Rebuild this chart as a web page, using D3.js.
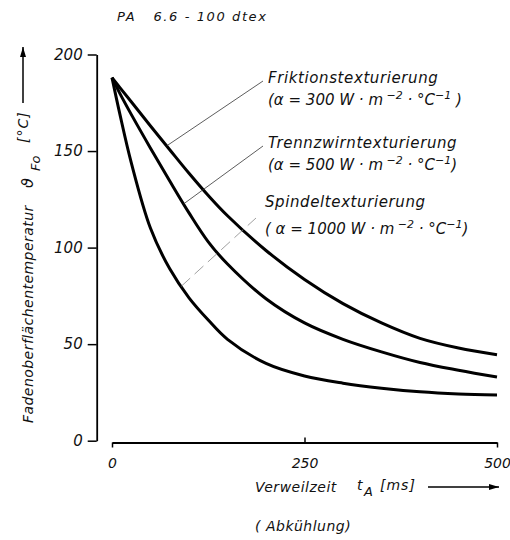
<!DOCTYPE html>
<html>
<head>
<meta charset="utf-8">
<script src="https://cdn.jsdelivr.net/npm/d3@7"></script>
<style>
    body { margin: 0; background: white; }
    text { font-family: "DejaVu Sans", sans-serif; font-style: italic; fill: #111; }
</style>
</head>
<body>
<div id="chart"></div>
<script>
// Verweilzeit t_A [ms]
const times = [0, 10, 25, 50, 75, 100, 125, 150, 200, 250, 300, 350, 400, 450, 500];
// Fadenoberflächentemperatur [°C]
const friktion = [188, 183, 175.5, 163, 150.7, 138.5, 127, 116.5, 98.5, 83.5, 71, 61, 53, 48, 44.5];
const trennzwirn = [188, 180, 169, 151.5, 134.5, 118, 103, 91.5, 73.5, 61, 52.5, 46, 40.5, 36.5, 33];
const spindel = [188, 169.5, 144, 110, 89, 74, 62.5, 52.5, 40, 33.5, 29.8, 27.2, 25.3, 24.2, 23.7];

const seriesNames = ["Friktionstexturierung", "Trennzwirntexturierung", "Spindeltexturierung"];
const alphaValues = ["300", "500", "1000"];
const leaderAt = [71, 93, 90];

const xTicks = [0, 250, 500];
const yTicks = [0, 50, 100, 150, 200];

const width = 510;
const height = 540;

const x = d3.scaleLinear().domain([0, 500]).range([112, 497]);
const y = d3.scaleLinear().domain([0, 200]).range([440.7, 54.5]);

const svg = d3.select("#chart")
    .append("svg")
    .attr("width", width)
    .attr("height", height);

// title
svg.append("text")
    .attr("x", 117)
    .attr("y", 21)
    .style("font-size", "13px")
    .style("letter-spacing", "1.6px")
    .style("white-space", "pre")
    .text("PA   6.6 - 100 dtex");

// axes
const yAxis = d3.axisLeft(y)
    .tickValues(yTicks)
    .tickSizeInner(9)
    .tickSizeOuter(0)
    .tickPadding(5);
const gy = svg.append("g")
    .attr("transform", "translate(96.7,0)")
    .call(yAxis);
gy.select(".domain").attr("stroke-width", 1.8);
gy.selectAll(".tick line").attr("stroke-width", 1.5);
gy.selectAll(".tick text")
    .style("font-size", "15px")
    .attr("fill", "#111");

const xAxis = d3.axisBottom(x)
    .tickValues(xTicks)
    .tickSizeInner(5)
    .tickSizeOuter(0)
    .tickPadding(11);
const gx = svg.append("g")
    .attr("transform", "translate(0,442.5)")
    .call(xAxis);
gx.select(".domain").attr("stroke-width", 1.8);
gx.selectAll(".tick line").attr("stroke-width", 1.5)
    .filter(d => d === 250).attr("y2", -5);
gx.selectAll(".tick text")
    .style("font-size", "14px")
    .attr("fill", "#111");

// curves
const series = [friktion, trennzwirn, spindel];
const line = d3.line()
    .x((d, i) => x(times[i]))
    .y(d => y(d))
    .curve(d3.curveCatmullRom.alpha(0.5));

svg.selectAll(".curve")
    .data(series)
    .enter()
    .append("path")
    .attr("class", "curve")
    .attr("d", line)
    .attr("fill", "none")
    .attr("stroke", "#000")
    .attr("stroke-width", 3)
    .attr("stroke-linejoin", "round");

// labels with leader lines
const valueAt = (vals, t) => {
    const i = d3.bisectRight(times, t) - 1;
    const f = (t - times[i]) / (times[i + 1] - times[i]);
    return vals[i] + f * (vals[i + 1] - vals[i]);
};
const labelX = [268, 268, 265];
const labelY = [83, 148, 207];

series.forEach((vals, k) => {
    svg.append("line")
        .attr("x1", x(leaderAt[k]))
        .attr("y1", y(valueAt(vals, leaderAt[k])))
        .attr("x2", labelX[k] - 5 - (k === 2 ? 4 : 0))
        .attr("y2", labelY[k] + (k === 2 ? 11 : -2))
        .attr("stroke", k === 2 ? "#888" : "#333")
        .attr("stroke-width", 0.8)
        .attr("stroke-dasharray", k === 2 ? "12,6" : null);
    svg.append("text")
        .attr("x", labelX[k])
        .attr("y", labelY[k])
        .style("font-size", "15px")
        .style("letter-spacing", "0.6px")
        .text(seriesNames[k]);
    const t = svg.append("text")
        .attr("x", labelX[k])
        .attr("y", labelY[k] + (k === 2 ? 27 : 22))
        .style("font-size", "15px")
        .style("white-space", "pre");
    t.append("tspan").text((k === 2 ? "( " : "(") + "α = " + alphaValues[k] + " W · m");
    t.append("tspan").attr("dy", -6).style("font-size", "11px").text(" −2");
    t.append("tspan").attr("dy", 6).text(" · °C");
    t.append("tspan").attr("dy", -6).style("font-size", "11px").text("−1");
    t.append("tspan").attr("dy", 6).text(k === 0 ? " )" : ")");
});

// arrow marker
svg.append("defs").append("marker")
    .attr("id", "arrow")
    .attr("viewBox", "0 0 10 6")
    .attr("refX", 10)
    .attr("refY", 3)
    .attr("markerWidth", 12)
    .attr("markerHeight", 6)
    .attr("markerUnits", "userSpaceOnUse")
    .attr("orient", "auto")
    .append("path")
    .attr("d", "M0,0L10,3L0,6Z")
    .attr("fill", "#000");

// y axis title (rotated)
const yt = svg.append("g").attr("transform", "translate(33,0) rotate(-90)");
yt.append("text")
    .attr("x", -423)
    .attr("y", 0)
    .style("font-size", "14px")
    .style("letter-spacing", "0.45px")
    .text("Fadenoberflächentemperatur");
yt.append("text")
    .attr("x", -188)
    .attr("y", 0)
    .style("font-size", "16px")
    .text("ϑ");
yt.append("text")
    .attr("x", -171)
    .attr("y", 7)
    .style("font-size", "13px")
    .text("Fo");
yt.append("text")
    .attr("x", -143)
    .attr("y", -5)
    .style("font-size", "14px")
    .style("letter-spacing", "1px")
    .text("[°C]");
yt.append("line")
    .attr("x1", -103)
    .attr("y1", -10)
    .attr("x2", -47)
    .attr("y2", -10)
    .attr("stroke", "#000")
    .attr("stroke-width", 1.5)
    .attr("marker-end", "url(#arrow)");

// x axis title
svg.append("text")
    .attr("x", 255)
    .attr("y", 492)
    .style("font-size", "14px")
    .style("letter-spacing", "0.5px")
    .text("Verweilzeit");
svg.append("text")
    .attr("x", 357)
    .attr("y", 490)
    .style("font-size", "14px")
    .text("t");
svg.append("text")
    .attr("x", 364)
    .attr("y", 496)
    .style("font-size", "13px")
    .text("A");
svg.append("text")
    .attr("x", 380)
    .attr("y", 490)
    .style("font-size", "14px")
    .style("letter-spacing", "1px")
    .text("[ms]");
svg.append("line")
    .attr("x1", 428)
    .attr("y1", 487)
    .attr("x2", 499)
    .attr("y2", 487)
    .attr("stroke", "#000")
    .attr("stroke-width", 1.5)
    .attr("marker-end", "url(#arrow)");
svg.append("text")
    .attr("x", 255)
    .attr("y", 531)
    .style("font-size", "14px")
    .style("letter-spacing", "0.5px")
    .style("white-space", "pre")
    .text("( Abkühlung)");
</script>
</body>
</html>
